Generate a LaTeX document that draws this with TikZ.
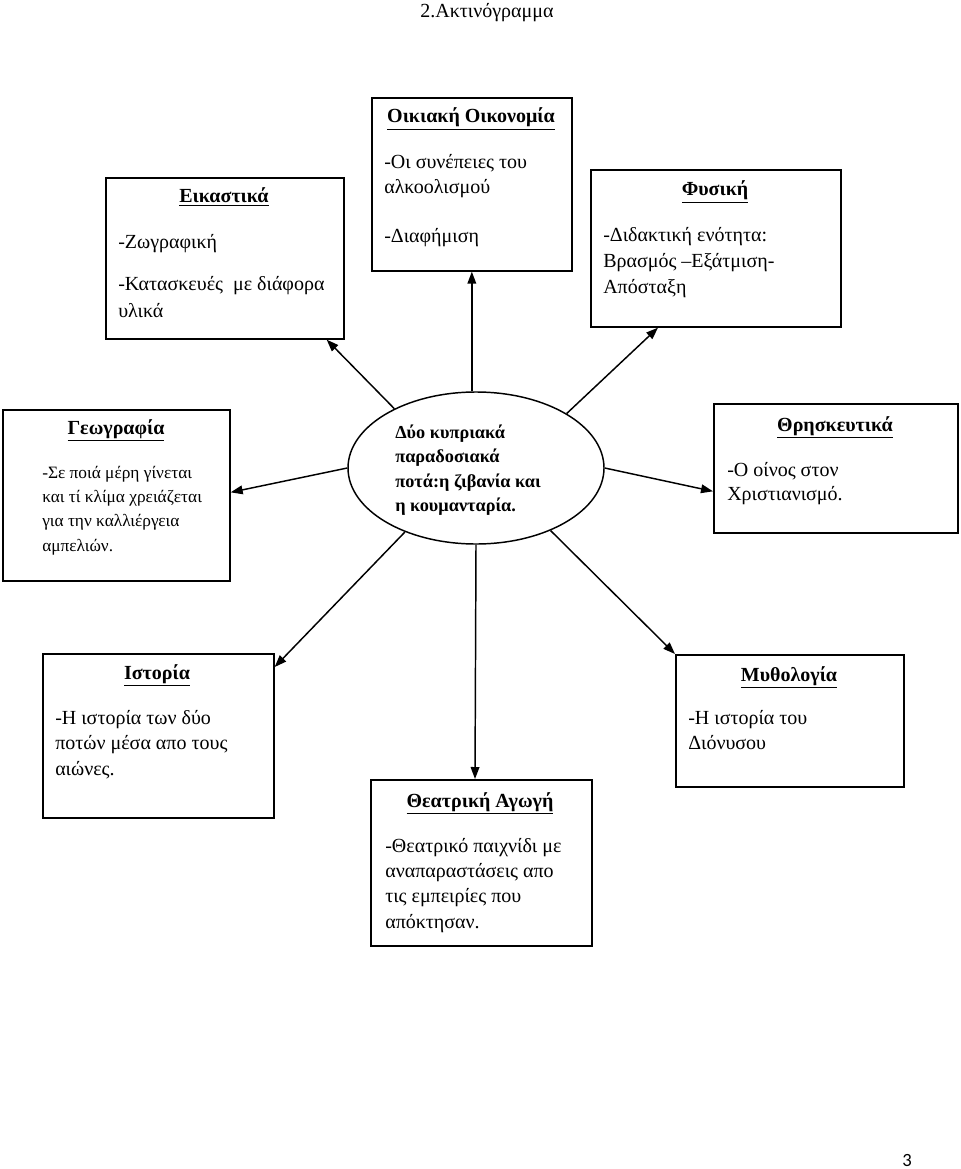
\documentclass[tikz,border=0pt]{standalone}
\usepackage{fontspec}
\setmainfont{Liberation Serif}
\newfontfamily\pagenumfont{Carlito}
\usetikzlibrary{arrows.meta,calc,shapes.geometric}
\newcommand\txtline[4]{\node[body] (#1) at (#2,#3) {#4};}
\newcommand\ttlline[4]{\node[ttl] (#1) at (#2,#3) {\underline{#4}};}
\begin{document}
\begin{tikzpicture}[x=0.75pt,y=-0.75pt,
  box/.style={draw,line width=1.25pt,anchor=north west,inner sep=0pt},
  arr/.style={line width=1.1pt,-{Triangle[length=9pt,width=6.5pt]}},
  ttl/.style={font=\fontsize{15}{18}\selectfont\bfseries,anchor=base,inner sep=0pt},
  body/.style={font=\fontsize{15}{18}\selectfont,anchor=base west,inner sep=0pt},
  bodys/.style={font=\fontsize{13}{15}\selectfont,anchor=base west,inner sep=0pt},
  bodyb/.style={font=\fontsize{13.7}{16}\selectfont\bfseries,anchor=base west,inner sep=0pt},
]
\useasboundingbox (0,0) rectangle (960,1169);

% page header and number
\node[font=\fontsize{15}{18}\selectfont,anchor=base,inner sep=0pt] (head) at (487,18) {2.Ακτινόγραμμα};
\node[font=\fontsize{14}{16}\selectfont\pagenumfont,anchor=base,inner sep=0pt] (pnum) at (907,1166) {3};

% boxes
\node[box,minimum width=178.5pt,minimum height=120.75pt] (eik) at (105,177) {};
\node[box,minimum width=150pt,minimum height=129.75pt] (oik) at (371,97) {};
\node[box,minimum width=187.5pt,minimum height=117.75pt] (phy) at (590,169) {};
\node[box,minimum width=170.25pt,minimum height=128.25pt] (geo) at (2,409) {};
\node[box,minimum width=183pt,minimum height=96.75pt] (rel) at (713,403) {};
\node[box,minimum width=173.25pt,minimum height=123pt] (ist) at (42,653) {};
\node[box,minimum width=171pt,minimum height=99pt] (myth) at (675,654) {};
\node[box,minimum width=165.75pt,minimum height=124.5pt] (the) at (370,779) {};

% central ellipse
\node[draw,ellipse,line width=1.1pt,minimum width=192pt,minimum height=114pt,inner sep=0pt] (ell) at (476,468) {};
\node[bodyb] (c1) at (395,438) {Δύο κυπριακά};
\node[bodyb] (c2) at (395,462) {παραδοσιακά};
\node[bodyb] (c3) at (395,487) {ποτά:η ζιβανία και};
\node[bodyb] (c4) at (395,511) {η κουμανταρία.};

% Εικαστικά
\ttlline{eikT}{224}{203}{Εικαστικά}
\txtline{eik1}{118}{249}{-Ζωγραφική}
\txtline{eik2}{118}{291}{-Κατασκευές\ \ με διάφορα}
\txtline{eik3}{118}{317}{υλικά}

% Οικιακή Οικονομία
\ttlline{oikT}{471}{123}{Οικιακή Οικονομία}
\txtline{oik1}{384}{169}{-Οι συνέπειες του}
\txtline{oik2}{384}{194}{αλκοολισμού}
\txtline{oik3}{384}{243}{-Διαφήμιση}

% Φυσική
\ttlline{phyT}{715}{196}{Φυσική}
\txtline{phy1}{603}{242}{-Διδακτική ενότητα:}
\txtline{phy2}{603}{268}{Βρασμός –Εξάτμιση-}
\txtline{phy3}{603}{294}{Απόσταξη}

% Γεωγραφία
\ttlline{geoT}{116}{434}{Γεωγραφία}
\node[bodys] (geo1) at (42,478) {-Σε ποιά μέρη γίνεται};
\node[bodys] (geo2) at (42,502) {και τί κλίμα χρειάζεται};
\node[bodys] (geo3) at (42,526) {για την καλλιέργεια};
\node[bodys] (geo4) at (42,551) {αμπελιών.};

% Θρησκευτικά
\ttlline{relT}{835}{431}{Θρησκευτικά}
\txtline{rel1}{727}{476}{-Ο οίνος στον}
\txtline{rel2}{727}{500}{Χριστιανισμό.}

% Ιστορία
\ttlline{istT}{157}{679}{Ιστορία}
\txtline{ist1}{55}{724}{-Η ιστορία των δύο}
\txtline{ist2}{55}{749}{ποτών μέσα απο τους}
\txtline{ist3}{55}{775}{αιώνες.}

% Μυθολογία
\ttlline{mythT}{789}{681}{Μυθολογία}
\txtline{myth1}{688}{724}{-Η ιστορία του}
\txtline{myth2}{688}{749}{Διόνυσου}

% Θεατρική Αγωγή
\ttlline{theT}{480}{807}{Θεατρική Αγωγή}
\txtline{the1}{385}{852}{-Θεατρικό παιχνίδι με}
\txtline{the2}{385}{877}{αναπαραστάσεις απο}
\txtline{the3}{385}{902}{τις εμπειρίες που}
\txtline{the4}{385}{928}{απόκτησαν.}

% connectors
\draw[arr] (ell.144) -- ($(eik.south east)+(-18,0)$);
\draw[arr] (oik.south |- ell.north) -- (oik.south);
\draw[arr] (ell.31) -- ($(phy.south west)+(68,0)$);
\draw[arr] (ell.west) -- ($(geo.east)+(0,-3)$);
\draw[arr] (ell.east) -- ($(rel.west)+(0,23)$);
\draw[arr] (ell.222) -- ($(ist.north east)+(0,14)$);
\draw[arr] (ell.south) -- ($(the.north west)+(105,0)$);
\draw[arr] (ell.-40) -- (myth.north west);
\end{tikzpicture}
\end{document}
